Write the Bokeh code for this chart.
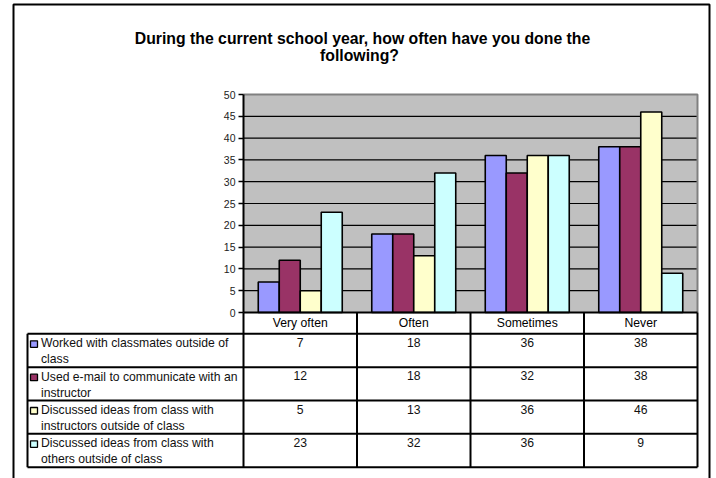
from bokeh.plotting import figure
from bokeh.models import Range1d, FixedTicker, LinearAxis, ColumnDataSource
from bokeh.embed import file_html
from bokeh.resources import INLINE
from bokeh.transform import dodge
from bokeh.core.properties import value

# ---------------- data ----------------
categories = ["Very often", "Often", "Sometimes", "Never"]
series_names = [
    "Worked with classmates outside of\nclass",
    "Used e-mail to communicate with an\ninstructor",
    "Discussed ideas from class with\ninstructors outside of class",
    "Discussed ideas from class with\nothers outside of class",
]
worked = [7, 18, 36, 38]
email = [12, 18, 32, 38]
instructors = [5, 13, 36, 46]
others = [23, 32, 36, 9]
series_values = [worked, email, instructors, others]
colors = ["#9999FF", "#993366", "#FFFFCC", "#CCFFFF"]
y_ticks = list(range(0, 51, 5))
title_lines = ["During the current school year, how often have you done the", "following?"]

FONT = value("Liberation Sans")

# ---------------- layout constants (pixels) ----------------
W, H = 716, 478
FRAME_L, FRAME_R = 243, 697
FRAME_T, ZERO_Y, HEAD_B = 94, 312, 333.3
TABLE_L = 27
ROW_H = 33.35
YMAX = 50
ppu = (ZERO_Y - FRAME_T) / YMAX
ncat = len(categories)
nser = len(series_values)
cat_px = (FRAME_R - FRAME_L) / ncat


def px2x(px):
    return (px - FRAME_L) / cat_px


def py2y(py):
    return YMAX - (py - FRAME_T) / ppu


p = figure(width=W, height=H, x_range=Range1d(px2x(0), px2x(W)),
           y_range=Range1d(py2y(H), py2y(0)), output_backend="svg",
           toolbar_location=None, min_border=0, min_border_left=0,
           min_border_right=0, min_border_top=0, min_border_bottom=0,
           x_axis_location=None, y_axis_location=None)
p.grid.visible = False
p.outline_line_color = None
p.background_fill_color = "white"
p.border_fill_color = "white"

# plot area background + gridlines
p.quad(left=[0], right=[ncat], bottom=[0], top=[YMAX], fill_color="#C0C0C0",
       line_color=None)
grid_ticks = y_ticks[1:-1]
p.segment(x0=[0] * len(grid_ticks), x1=[ncat] * len(grid_ticks), y0=grid_ticks,
          y1=grid_ticks, line_color="black", line_width=1.2)
# gray top/right border of plot area
p.line(x=[0, ncat, ncat], y=[YMAX, YMAX, 0], line_color="#808080", line_width=2)

# bars
src = ColumnDataSource(dict(x=[i + 0.5 for i in range(ncat)]))
bw = 0.185
offsets = [(-(nser - 1) / 2 + j) * bw for j in range(nser)]
for j, vals in enumerate(series_values):
    src.data["s%d" % j] = vals
    p.vbar(x=dodge("x", offsets[j], range=p.x_range), top="s%d" % j,
           width=bw, bottom=0, source=src, fill_color=colors[j],
           line_color="black", line_width=1.6)

# y axis (drawn at x = 0)
ax = LinearAxis(fixed_location=0, bounds=(0, YMAX),
                ticker=FixedTicker(ticks=y_ticks))
ax.axis_line_width = 2
ax.axis_line_color = "black"
ax.major_tick_out = 5
ax.major_tick_in = 0
ax.minor_tick_out = 0
ax.minor_tick_in = 0
ax.major_tick_line_width = 1.5
ax.major_label_text_font_size = "10.5px"
ax.major_label_text_font = "Liberation Sans"
ax.major_label_text_color = "#222222"
ax.major_label_standoff = 3
p.add_layout(ax, "left")

# ---------------- table ----------------
y_head = py2y(HEAD_B)
row_tops_px = [HEAD_B + r * ROW_H for r in range(nser)]
table_bottom_px = HEAD_B + nser * ROW_H
xL = px2x(TABLE_L)
TXT = "12.2px"

# header row
p.segment(x0=[0], x1=[ncat], y0=[0], y1=[0], line_color="black", line_width=2)
hx = list(range(ncat + 1))
p.segment(x0=hx, x1=hx, y0=[0] * len(hx), y1=[py2y(table_bottom_px)] * len(hx),
          line_color="black", line_width=2)
p.text(x=[i + 0.5 for i in range(ncat)], y=[py2y(322.3)] * ncat, text=categories,
       text_align="center", text_baseline="middle", text_font=FONT,
       text_font_size=TXT, text_color="black")

# rows
hy = [py2y(HEAD_B + r * ROW_H) for r in range(nser + 1)]
p.segment(x0=[xL] * len(hy), x1=[ncat] * len(hy), y0=hy, y1=hy,
          line_color="black", line_width=2)
p.segment(x0=[xL], x1=[xL], y0=[y_head], y1=[py2y(table_bottom_px)],
          line_color="black", line_width=2)

# legend keys + labels
p.quad(left=[px2x(30)] * nser, right=[px2x(37)] * nser,
       top=[py2y(t + 7) for t in row_tops_px],
       bottom=[py2y(t + 13.5) for t in row_tops_px],
       fill_color=colors, line_color="black", line_width=1.3)
p.text(x=[px2x(40.5)] * nser, y=[py2y(t + 2.5) for t in row_tops_px],
       text=series_names, text_align="left", text_baseline="top", text_font=FONT,
       text_font_size=TXT, text_line_height=1.15, text_color="#111111")

# values
vx_, vy_, vt_ = [], [], []
for r, vals in enumerate(series_values):
    for i, v in enumerate(vals):
        vx_.append(i + 0.5)
        vy_.append(py2y(row_tops_px[r] + 8.5))
        vt_.append(str(v))
p.text(x=vx_, y=vy_, text=vt_, text_align="center", text_baseline="middle",
       text_font=FONT, text_font_size=TXT, text_color="#111111")

# ---------------- title ----------------
p.text(x=[px2x(362), px2x(359)], y=[py2y(37.5), py2y(55)], text=title_lines,
       text_align="center", text_baseline="middle", text_font=FONT,
       text_font_style="bold", text_font_size="15.8px", text_color="black")

# ---------------- outer frame ----------------
p.line(x=[px2x(13), px2x(13), px2x(709), px2x(709)],
       y=[py2y(H + 5), py2y(4), py2y(4), py2y(H + 5)],
       line_color="black", line_width=2)

open("out.html", "w").write(file_html(p, INLINE))
